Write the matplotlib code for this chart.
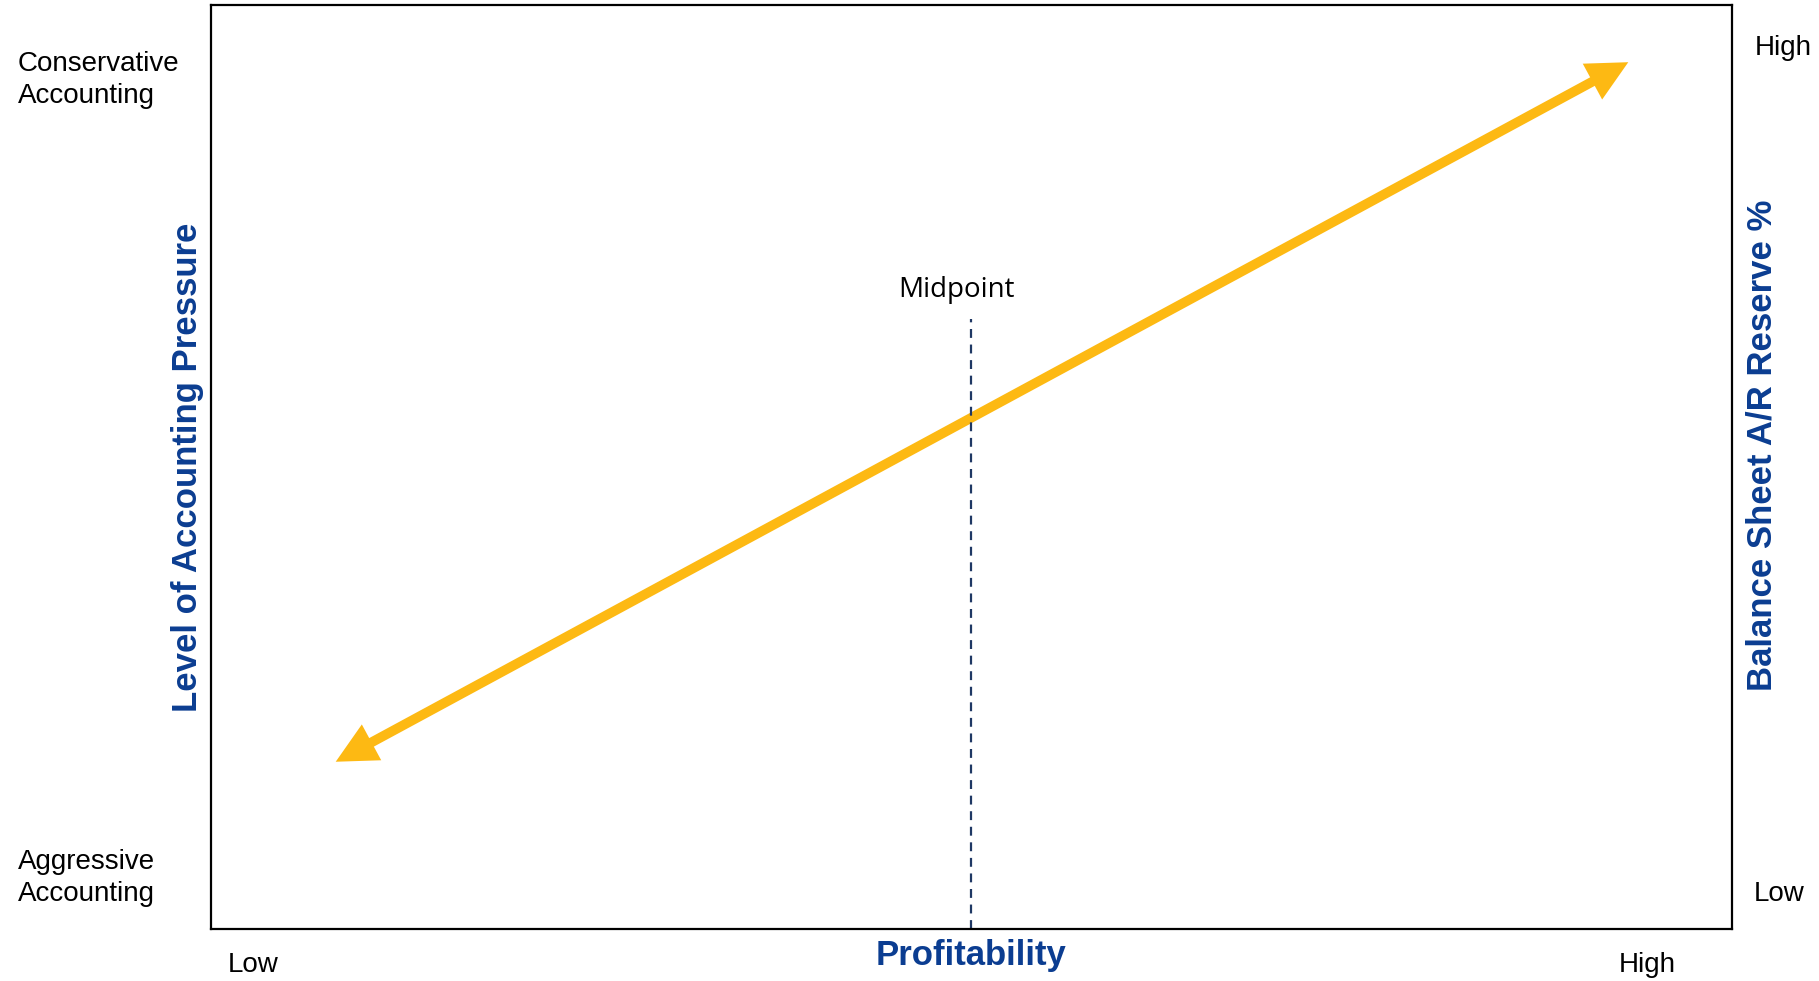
import matplotlib
matplotlib.use("Agg")
import matplotlib.pyplot as plt
from matplotlib.patches import FancyArrowPatch

# trend arrow (low profitability -> high profitability), axis units 0..100
trend_x = [8.2, 93.2]
trend_y = [18.1, 93.8]
midpoint_x = 50
midpoint_top = 66

left_labels = ["Conservative\nAccounting", "Aggressive\nAccounting"]
right_labels = ["High", "Low"]
bottom_labels = ["Low", "High"]

blue = "#0B3D91"
gold = "#FDB913"
navy = "#1F3864"

plt.rcParams["font.family"] = ["Liberation Sans", "DejaVu Sans"]

fig = plt.figure(figsize=(18.19, 9.81), dpi=100)
ax = fig.add_axes([0.116, 0.053, 0.836, 0.942])
ax.set_xlim(0, 100)
ax.set_ylim(0, 100)
ax.set_xticks([]), ax.set_yticks([])
for s in ax.spines.values():
    s.set_linewidth(1.6)
    s.set_color("black")

ax.plot([midpoint_x, midpoint_x], [0, midpoint_top], ls=(0, (4, 3)), color=navy, lw=1.6)
ax.text(midpoint_x - 1.0, midpoint_top + 3.2, "Midpoint", ha="center", va="center",
        fontsize=20, family=["Open Sans", "DejaVu Sans"])

arr = FancyArrowPatch((trend_x[0], trend_y[0]), (trend_x[1], trend_y[1]),
                      arrowstyle="<|-|>,head_length=0.9,head_width=0.45",
                      mutation_scale=20, lw=7, color=gold, shrinkA=0, shrinkB=0,
                      joinstyle="miter", capstyle="butt")
ax.add_patch(arr)

# outside labels, in figure pixel coordinates
W, H = 1819, 981
def ftxt(x, y, s, **kw):
    fig.text(x / W, 1 - y / H, s, **kw)

ftxt(18, 80, left_labels[0], ha="left", va="center", fontsize=20, linespacing=1.3)
ftxt(18, 878, left_labels[1], ha="left", va="center", fontsize=20, linespacing=1.3)
ftxt(1783, 48, right_labels[0], ha="center", va="center", fontsize=20)
ftxt(1779, 894, right_labels[1], ha="center", va="center", fontsize=20)
ftxt(253, 965, bottom_labels[0], ha="center", va="center", fontsize=20)
ftxt(1647, 965, bottom_labels[1], ha="center", va="center", fontsize=20)

ftxt(188, 467, "Level of Accounting Pressure", ha="center", va="center",
     rotation=90, fontsize=25, fontweight="bold", color=blue)
ftxt(1762, 445, "Balance Sheet A/R Reserve %", ha="center", va="center",
     rotation=90, fontsize=25, fontweight="bold", color=blue)
ftxt(971, 955, "Profitability", ha="center", va="center",
     fontsize=25, fontweight="bold", color=blue)

fig.savefig("out.png", dpi=100)
